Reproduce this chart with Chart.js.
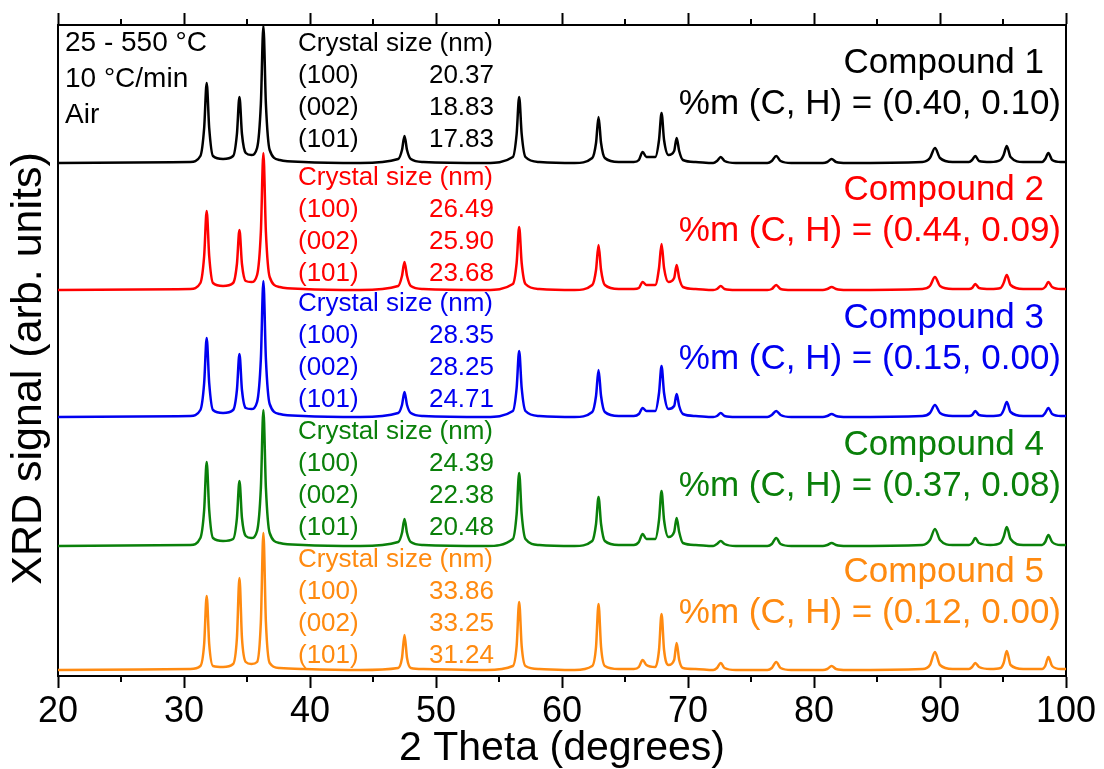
<!DOCTYPE html>
<html>
<head>
<meta charset="utf-8">
<script src="https://cdn.jsdelivr.net/npm/chart.js@4"></script>
<style>
  body { margin: 0; background: #fff; }
  canvas { display: block; }
</style>
</head>
<body>
<canvas id="xrd-chart" width="1104" height="769"></canvas>
<script>
// 2 theta sample positions (degrees), shared by all patterns
const twoTheta = [
  20, 30.5,
  31.3, 31.6, 31.8, 32.0, 32.3,
  33.1,
  33.9, 34.2, 34.4, 34.6, 34.9,
  35.35,
  35.8, 36.1, 36.3, 36.5, 36.8,
  37.6, 39.5, 44,
  47.0, 47.3, 47.5, 47.7, 48.0,
  49.0, 54,
  56.1, 56.4, 56.6, 56.8, 57.1,
  58.2, 61,
  62.4, 62.7, 62.9, 63.1, 63.4,
  64.5, 65.7,
  66.1, 66.4, 66.7,
  67.4, 67.7, 67.9, 68.1,
  68.45,
  68.9, 69.1, 69.3, 69.6,
  70.6, 72.0,
  72.3, 72.6, 72.9,
  73.8, 76.3,
  76.65, 77.0, 77.35,
  78.2, 80.7,
  81.05, 81.4, 81.75,
  82.6, 88.6,
  89.2, 89.6, 90.0,
  91.0, 92.3,
  92.55, 92.8, 93.1,
  94.0, 94.8,
  95.05, 95.3, 95.6,
  96.6, 98.1,
  98.35, 98.6, 98.9,
  99.6, 100
];

// stacked signal (arb. units)
const compound1 = [
  513, 514, 520, 548, 593, 548, 520, 517, 520, 542, 579, 542, 523, 521,
  528, 572, 650, 572, 526, 516, 514, 513, 517, 526, 540, 526, 517, 514, 513,
  519, 542, 579, 542, 519, 514, 513, 518, 533, 559, 533, 518, 514, 514,
  516, 524, 519, 519, 536, 563, 536, 521, 525, 538, 525, 516, 514, 513,
  515, 519, 515, 513, 513, 515, 520, 515, 513, 513, 514, 517, 514, 513, 514,
  518, 528, 518, 514, 514, 516, 520, 515, 514, 516, 521, 530, 519, 514, 514,
  517, 523, 516, 514, 514
];
const compound2 = [
  386, 387, 393, 420, 465, 420, 393, 390, 393, 412, 446, 412, 395, 394,
  401, 444, 523, 444, 399, 389, 387, 386, 390, 400, 414, 400, 390, 387, 386,
  392, 413, 449, 413, 392, 387, 386, 391, 406, 431, 406, 391, 387, 387,
  388, 394, 391, 391, 408, 432, 408, 394, 398, 411, 398, 389, 387, 386,
  387, 390, 387, 386, 386, 387, 391, 387, 386, 386, 387, 389, 387, 386, 387,
  390, 399, 390, 387, 387, 388, 392, 388, 387, 388, 393, 401, 391, 387, 387,
  389, 394, 389, 387, 387
];
const compound3 = [
  259, 260, 266, 293, 338, 293, 266, 263, 266, 286, 322, 286, 268, 267,
  274, 317, 395, 317, 272, 262, 260, 259, 263, 271, 284, 271, 263, 260, 259,
  265, 288, 325, 288, 265, 260, 259, 264, 280, 306, 280, 264, 260, 260,
  262, 268, 265, 265, 283, 310, 283, 267, 270, 282, 270, 262, 260, 259,
  260, 263, 260, 259, 259, 261, 265, 261, 259, 259, 260, 262, 260, 259, 260,
  263, 271, 263, 260, 260, 261, 265, 261, 260, 261, 266, 274, 264, 260, 260,
  263, 268, 262, 260, 260
];
const compound4 = [
  130, 131, 138, 166, 214, 166, 138, 135, 137, 158, 195, 158, 140, 138,
  145, 188, 266, 188, 143, 133, 131, 130, 134, 143, 157, 143, 134, 131, 130,
  137, 162, 203, 162, 137, 131, 130, 135, 152, 179, 152, 135, 131, 131,
  134, 142, 137, 137, 156, 185, 156, 139, 144, 158, 144, 133, 131, 130,
  132, 135, 132, 130, 130, 132, 138, 132, 130, 130, 131, 133, 131, 130, 131,
  136, 147, 136, 131, 131, 133, 138, 133, 131, 133, 139, 149, 137, 131, 131,
  134, 141, 134, 131, 131
];
const compound5 = [
  6, 7, 10, 32, 80, 32, 10, 9, 12, 38, 98, 38, 14, 12,
  14, 54, 143, 54, 13, 8, 7, 6, 8, 18, 41, 18, 8, 7, 6,
  10, 30, 74, 30, 10, 7, 6, 10, 29, 72, 29, 10, 7, 7,
  9, 16, 11, 9, 26, 62, 26, 11, 16, 33, 16, 8, 7, 6,
  8, 13, 8, 6, 6, 8, 14, 8, 6, 6, 7, 10, 7, 6, 7,
  11, 24, 11, 7, 7, 9, 13, 9, 7, 8, 13, 25, 11, 7, 7,
  10, 19, 10, 7, 7
];

const compoundNames = ['Compound 1', 'Compound 2', 'Compound 3', 'Compound 4', 'Compound 5'];
const massCH = ['(0.40, 0.10)', '(0.44, 0.09)', '(0.15, 0.00)', '(0.37, 0.08)', '(0.12, 0.00)'];
const planes = ['(100)', '(002)', '(101)'];
const crystalSizes = [
  ['20.37', '18.83', '17.83'],
  ['26.49', '25.90', '23.68'],
  ['28.35', '28.25', '24.71'],
  ['24.39', '22.38', '20.48'],
  ['33.86', '33.25', '31.24']
];
const conditions = ['25 - 550 °C', '10 °C/min', 'Air'];
const minorTicks = [25, 35, 45, 55, 65, 75, 85, 95];

const colors = ['#000000', '#ff0000', '#0000f0', '#0a800a', '#ff8a10'];
const FONT = '"Liberation Sans", Arial, sans-serif';

function series(label, values, color) {
  return {
    label: label,
    data: twoTheta.map((x, i) => ({ x: x, y: values[i] })),
    borderColor: color,
    borderWidth: 2.5,
    pointRadius: 0,
    fill: false,
    cubicInterpolationMode: 'monotone',
    xAxisID: 'x',
    yAxisID: 'y'
  };
}

// minor ticks on top and bottom axes
const minorTickPlugin = {
  id: 'minorTicks',
  afterDraw(chart) {
    const { ctx, chartArea, scales } = chart;
    ctx.save();
    ctx.strokeStyle = '#000';
    ctx.lineWidth = 2;
    minorTicks.forEach(v => {
      const px = scales.x.getPixelForValue(v);
      ctx.beginPath();
      ctx.moveTo(px, chartArea.bottom);
      ctx.lineTo(px, chartArea.bottom + 6);
      ctx.moveTo(px, chartArea.top);
      ctx.lineTo(px, chartArea.top - 6);
      ctx.stroke();
    });
    ctx.restore();
  }
};

// text labels inside the plot
const labelPlugin = {
  id: 'labels',
  afterDraw(chart) {
    const ctx = chart.ctx;
    ctx.save();
    ctx.textBaseline = 'middle';

    ctx.fillStyle = '#000';
    ctx.textAlign = 'left';
    ctx.font = '28px ' + FONT;
    conditions.forEach((t, i) => ctx.fillText(t, 65, 43 + 36 * i));

    const blockTop = [44, 178, 304, 432, 560];
    const nameY = [63, 190, 318, 445, 572];
    compoundNames.forEach((name, k) => {
      ctx.fillStyle = colors[k];
      ctx.font = '26px ' + FONT;
      ctx.textAlign = 'left';
      ctx.fillText('Crystal size (nm)', 298, blockTop[k]);
      planes.forEach((p, j) => ctx.fillText(p, 298, blockTop[k] + 32 * (j + 1)));
      ctx.textAlign = 'right';
      crystalSizes[k].forEach((s, j) => ctx.fillText(s, 494, blockTop[k] + 32 * (j + 1)));

      ctx.font = '35px ' + FONT;
      ctx.fillText(name, 1044, nameY[k]);
      ctx.fillText('%m (C, H) = ' + massCH[k], 1061, nameY[k] + 41);
    });
    ctx.restore();
  }
};

const axisLine = { display: true, color: '#000', width: 2 };
const tickMarks = { drawOnChartArea: false, drawTicks: true, tickLength: 12, tickWidth: 2, tickColor: '#000' };

new Chart(document.getElementById('xrd-chart'), {
  type: 'line',
  data: {
    datasets: [
      series(compoundNames[4], compound5, colors[4]),
      series(compoundNames[3], compound4, colors[3]),
      series(compoundNames[2], compound3, colors[2]),
      series(compoundNames[1], compound2, colors[1]),
      series(compoundNames[0], compound1, colors[0])
    ]
  },
  options: {
    responsive: false,
    animation: false,
    layout: { padding: { left: 0, right: 38, top: 0, bottom: 0 } },
    plugins: {
      legend: { display: false },
      tooltip: { enabled: false }
    },
    scales: {
      x: {
        type: 'linear',
        position: 'bottom',
        min: 20,
        max: 100,
        ticks: {
          stepSize: 10,
          autoSkip: false,
          maxRotation: 0,
          padding: 2,
          color: '#000',
          font: { family: FONT, size: 36 }
        },
        grid: tickMarks,
        border: axisLine,
        title: {
          display: true,
          text: '2 Theta (degrees)',
          color: '#000',
          padding: { top: 0, bottom: 0 },
          font: { family: FONT, size: 41, lineHeight: 1 }
        },
        afterFit(scale) { scale.height = 93; }
      },
      x2: {
        type: 'linear',
        position: 'top',
        min: 20,
        max: 100,
        ticks: { stepSize: 10, display: false },
        grid: tickMarks,
        border: axisLine,
        afterFit(scale) { scale.height = 25; }
      },
      y: {
        type: 'linear',
        position: 'left',
        min: 0,
        max: 651,
        ticks: { display: false },
        grid: { display: false },
        border: axisLine,
        title: {
          display: true,
          text: 'XRD signal (arb. units)   ',
          color: '#000',
          padding: { top: 8, bottom: 0 },
          font: { family: FONT, size: 43, lineHeight: 1 }
        },
        afterFit(scale) { scale.width = 58; }
      },
      y2: {
        type: 'linear',
        position: 'right',
        min: 0,
        max: 651,
        ticks: { display: false },
        grid: { display: false },
        border: axisLine,
        afterFit(scale) { scale.width = 0; }
      }
    }
  },
  plugins: [minorTickPlugin, labelPlugin]
});
</script>
</body>
</html>
